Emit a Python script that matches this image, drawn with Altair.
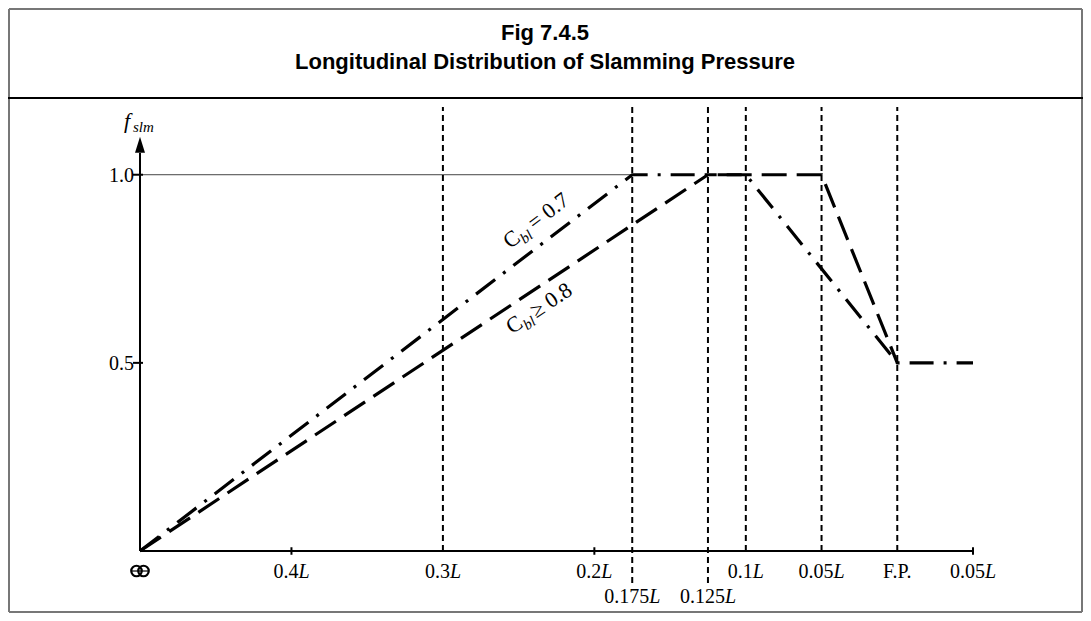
import altair as alt
import pandas as pd

# ---------------- data (distance aft of F.P. in units of L) ----------------
cb07_d = [0.5, 0.175, 0.1, 0.0, -0.05]     # C_bl = 0.7 (dash-dot)
cb07_f = [0.0, 1.0, 1.0, 0.5, 0.5]
cb08_d = [0.5, 0.125, 0.05, 0.0]           # C_bl >= 0.8 (dashed)
cb08_f = [0.0, 1.0, 1.0, 0.5]

guide_d = [0.3, 0.175, 0.125, 0.1, 0.05, 0.0]
guide_low = [0.0, -0.085, -0.085, 0.0, 0.0, 0.0]
guide_top = 1.18

xtick_d = [0.4, 0.2, -0.05]
ytick_f = [0.5, 1.0]
ytick_lab = ["0.5", "1.0"]

label_d = [0.4, 0.3, 0.2, 0.175, 0.125, 0.1, 0.05, 0.0, -0.05]
label_num = ["0.4", "0.3", "0.2", "0.175", "0.125", "0.1", "0.05", "F.P.", "0.05"]
label_L = ["L", "L", "L", "L", "L", "L", "L", "", "L"]
label_row = [1, 1, 1, 2, 2, 1, 1, 1, 1]

title_lines = ["Fig 7.4.5", "Longitudinal Distribution of Slamming Pressure"]

W, H = 833, 444
PX_PER_L = W / 0.55
PX_PER_F = 376.0
SERIF = "Liberation Serif"

xs = alt.Scale(domain=[-0.05, 0.5], reverse=True, nice=False, zero=False)
ys = alt.Scale(domain=[0, guide_top], nice=False, zero=False)


def X(f="d"):
    return alt.X(f"{f}:Q", scale=xs, axis=None)


def Y(f="f"):
    return alt.Y(f"{f}:Q", scale=ys, axis=None)


layers = []

# frame and title separator (decoration, pixel positions)
dummy = pd.DataFrame({"a": [0]})
frame_segments = [
    (-131, 942, -98, -98, "#777"),
    (-131, 942, 505, 505, "#777"),
    (-131, -131, -98, 505, "#777"),
    (942, 942, -98, 505, "#777"),
    (-132, 943, -9, -9, "black"),
]
for x1, x2, y1, y2, c in frame_segments:
    layers.append(alt.Chart(dummy).mark_rule(stroke=c, strokeWidth=2).encode(
        x=alt.value(x1), x2=alt.value(x2), y=alt.value(y1), y2=alt.value(y2)))
for i, t in enumerate(title_lines):
    layers.append(alt.Chart(dummy).mark_text(
        text=t, font="Liberation Sans", fontWeight="bold", fontSize=22,
        align="center", baseline="middle", color="black").encode(
        x=alt.value(405), y=alt.value(-74 + 29 * i)))

# reference line at f = 1.0
ref = pd.DataFrame({"d": [0.5], "d2": [0.175], "f": [1.0]})
layers.append(alt.Chart(ref).mark_rule(stroke="#444", strokeWidth=1).encode(
    x=X(), x2="d2:Q", y=Y()))

# vertical guide lines
gdf = pd.DataFrame({"d": guide_d, "lo": guide_low, "hi": [guide_top] * len(guide_d)})
layers.append(alt.Chart(gdf).mark_rule(stroke="black", strokeWidth=2, strokeDash=[6, 4]).encode(
    x=X(), y=Y("lo"), y2="hi:Q"))

# axes
axx = pd.DataFrame({"d": [0.5], "d2": [-0.05], "f": [0.0]})
layers.append(alt.Chart(axx).mark_rule(stroke="black", strokeWidth=2).encode(
    x=X(), x2="d2:Q", y=Y()))
axy = pd.DataFrame({"d": [0.5], "f": [0.0], "f2": [1.058]})
layers.append(alt.Chart(axy).mark_rule(stroke="black", strokeWidth=2).encode(
    x=X(), y=Y(), y2="f2:Q"))
arrow = pd.DataFrame({"d": [0.5], "f": [1.08]})
layers.append(alt.Chart(arrow).mark_point(
    shape="M0,-1L0.625,1L-0.625,1Z", size=256, filled=True, color="black", opacity=1).encode(
    x=X(), y=Y()))

# x ticks
xt = pd.DataFrame({"d": xtick_d, "lo": [-0.01] * 3, "hi": [0.01] * 3})
layers.append(alt.Chart(xt).mark_rule(stroke="black", strokeWidth=2).encode(
    x=X(), y=Y("lo"), y2="hi:Q"))
# y ticks
yt = pd.DataFrame({"d": [0.5 + 7 / PX_PER_L] * 2, "d2": [0.5 - 3 / PX_PER_L] * 2, "f": ytick_f,
                   "lab": ytick_lab})
layers.append(alt.Chart(yt).mark_rule(stroke="black", strokeWidth=2).encode(
    x=X(), x2="d2:Q", y=Y()))
layers.append(alt.Chart(yt).mark_text(font=SERIF, fontSize=20, align="right", baseline="middle",
                                      dx=-9, dy=1, color="black").encode(
    x=alt.X("d2:Q", scale=xs, axis=None), y=Y(), text="lab:N"))

# y axis title f_slm
ft = pd.DataFrame({"d": [0.5], "f": [(551 - 128) / PX_PER_F]})
layers.append(alt.Chart(ft).mark_text(text="f", font=SERIF, fontStyle="italic", fontSize=22,
                                      align="left", baseline="alphabetic", dx=-16, color="black").encode(
    x=X(), y=Y()))
layers.append(alt.Chart(ft).mark_text(text="slm", font=SERIF, fontStyle="italic", fontSize=15,
                                      align="left", baseline="alphabetic", dx=-7, dy=4, color="black").encode(
    x=X(), y=Y()))

# midship symbol (two interlocked rings)
ms = pd.DataFrame({"d": [0.5 + 3.5 / PX_PER_L, 0.5 - 3.5 / PX_PER_L],
                   "f": [-20 / PX_PER_F, -20 / PX_PER_F]})
layers.append(alt.Chart(ms).mark_point(shape="circle", size=110, filled=False, color="black",
                                       strokeWidth=2.2, opacity=1).encode(x=X(), y=Y()))
msb = pd.DataFrame({"d": [0.5 + 8 / PX_PER_L], "d2": [0.5 - 8 / PX_PER_L],
                    "f": [-20 / PX_PER_F]})
layers.append(alt.Chart(msb).mark_rule(stroke="black", strokeWidth=1.2).encode(
    x=X(), x2="d2:Q", y=Y()))

# x labels: number upright + italic L
def num_width(s):
    return sum(5 if c == "." else 10 for c in s)

for d, n, L, r in zip(label_d, label_num, label_L, label_row):
    one = pd.DataFrame({"d": [d], "f": [0.0]})
    dy = 27 if r == 1 else 52
    if L:
        shift = (num_width(n) - 11) / 2
        layers.append(alt.Chart(one).mark_text(text=n, font=SERIF, fontSize=20, align="right",
                                               baseline="alphabetic", dx=shift, dy=dy, color="black").encode(
            x=X(), y=Y()))
        layers.append(alt.Chart(one).mark_text(text=L, font=SERIF, fontStyle="italic", fontSize=20,
                                               align="left", baseline="alphabetic", dx=shift, dy=dy,
                                               color="black").encode(x=X(), y=Y()))
    else:
        layers.append(alt.Chart(one).mark_text(text=n, font=SERIF, fontSize=20, align="center",
                                               baseline="alphabetic", dy=dy, color="black").encode(
            x=X(), y=Y()))

# data lines
l07 = pd.DataFrame({"d": cb07_d, "f": cb07_f, "o": range(len(cb07_d))})
l08 = pd.DataFrame({"d": cb08_d, "f": cb08_f, "o": range(len(cb08_d))})
layers.append(alt.Chart(l08).mark_line(color="black", strokeWidth=3.2, strokeDash=[25, 10]).encode(
    x=X(), y=Y(), order="o:Q"))
layers.append(alt.Chart(l07).mark_line(color="black", strokeWidth=3.2, strokeDash=[24, 10, 3, 10]).encode(
    x=X(), y=Y(), order="o:Q"))

# annotations along the lines
ang07 = 360 - 37.39
ang08 = 360 - 33.55
a07 = pd.DataFrame({"d": [0.2398], "f": [0.8007]})
a08 = pd.DataFrame({"d": [0.2371], "f": [0.701]})
pieces = [
    (a07, ang07, "C", -19, -15, 22, "normal"),
    (a07, ang07, "bl", -4, -10, 15, "italic"),
    (a07, ang07, "= 0.7", 12, -15, 22, "normal"),
    (a08, ang08, "C", -48, 25, 22, "normal"),
    (a08, ang08, "bl", -33, 30, 15, "italic"),
    (a08, ang08, "\u2265 0.8", -19, 25, 22, "normal"),
]
for df, ang, t, dx, dy, fs, st in pieces:
    layers.append(alt.Chart(df).mark_text(text=t, font=SERIF, fontSize=fs, fontStyle=st, angle=ang,
                                          align="left", baseline="alphabetic", dx=dx, dy=dy,
                                          color="black").encode(x=X(), y=Y()))

chart = alt.layer(*layers).properties(
    width=W, height=H,
    background="white",
    autosize=alt.AutoSizeParams(type="none"),
    padding={"left": 132, "top": 99, "right": 110, "bottom": 62},
).configure(
    view=alt.ViewConfig(stroke="transparent", strokeWidth=0, strokeOpacity=0),
    style={"cell": {"stroke": "transparent", "strokeWidth": 0, "strokeOpacity": 0}},
)

chart.save("out.html", embed_options={"renderer": "svg", "actions": False})
